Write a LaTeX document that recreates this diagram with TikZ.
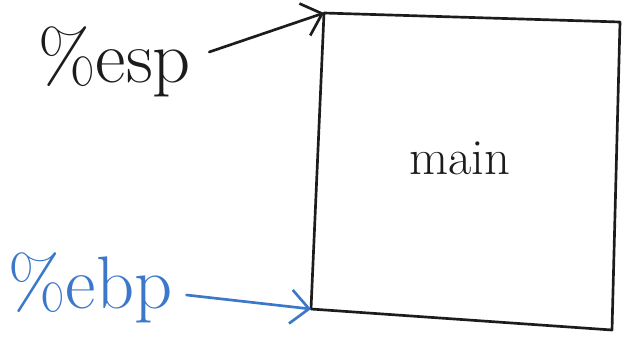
\documentclass[tikz,border=0pt]{standalone}
\usepackage{fontspec}
\usetikzlibrary{arrows.meta}

\definecolor{ink}{HTML}{1C1C1C}
\definecolor{inkblue}{HTML}{3B78C9}

\tikzset{
  stroke/.style={line width=1.9pt, line cap=round, line join=round},
  regname/.style={font=\fontsize{53}{56}\selectfont, inner sep=0pt},
  ptr/.style={stroke, -{Straight Barb[length=13pt, width=24pt, line width=1.9pt]}},
}

\begin{document}
\begin{tikzpicture}[x=0.025cm, y=-0.025cm]
  \useasboundingbox (0,0) rectangle (624,350);

  % Stackframe von main
  \coordinate (tl) at (324,13);
  \coordinate (tr) at (620,22);
  \coordinate (br) at (612,330);
  \coordinate (bl) at (311,309);
  \draw[stroke, ink] (tl) -- (tr) -- (br) -- (bl) -- cycle;
  \node[font=\fontsize{36}{40}\selectfont, ink] (main) at (460,158) {main};

  % Register
  \node[regname, ink, anchor=west] (esp) at (38,62) {\%esp};
  \node[regname, inkblue, anchor=west] (ebp) at (8,288) {\%ebp};

  % Pfeile auf die Ecken
  \draw[ptr, ink] (esp.east) ++(18,-10) -- (tl);
  \draw[ptr, inkblue] (ebp.east) ++(14,7) -- (bl);
\end{tikzpicture}
\end{document}
